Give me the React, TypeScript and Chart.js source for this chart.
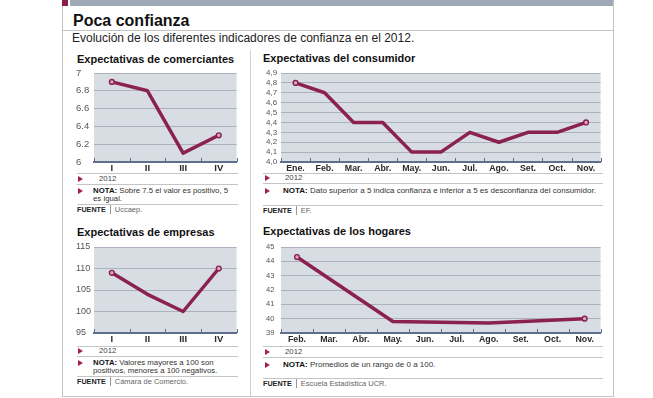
import React, { useEffect, useRef } from 'react';
import { Chart, registerables } from 'chart.js';

Chart.register(...registerables);

// ---------------- DATA ----------------
const quarterLabels = ['I', 'II', 'III', 'IV'];

const comerciantesValues = [6.9, 6.8, 6.1, 6.3];
const comerciantesTicks = [6, 6.2, 6.4, 6.6, 6.8, 7];
const comerciantesTickLabels = ['6', '6.2', '6.4', '6.6', '6.8', '7'];

const consumidorMonths = ['Ene.', 'Feb.', 'Mar.', 'Abr.', 'May.', 'Jun.', 'Jul.', 'Ago.', 'Set.', 'Oct.', 'Nov.'];
const consumidorValues = [4.8, 4.7, 4.4, 4.4, 4.1, 4.1, 4.3, 4.2, 4.3, 4.3, 4.4];
const consumidorTicks = [4.0, 4.1, 4.2, 4.3, 4.4, 4.5, 4.6, 4.7, 4.8, 4.9];
const consumidorTickLabels = ['4,0', '4,1', '4,2', '4,3', '4,4', '4,5', '4,6', '4,7', '4,8', '4,9'];

const empresasValues = [109, 104, 100, 110];
const empresasTicks = [95, 100, 105, 110, 115];
const empresasTickLabels = ['95', '100', '105', '110', '115'];

const hogaresMonths = ['Feb.', 'Mar.', 'Abr.', 'May.', 'Jun.', 'Jul.', 'Ago.', 'Set.', 'Oct.', 'Nov.'];
const hogaresValues: (number | null)[] = [44.3, null, null, 39.8, null, null, 39.7, null, null, 40.0];
const hogaresTicks = [39, 40, 41, 42, 43, 44, 45];
const hogaresTickLabels = ['39', '40', '41', '42', '43', '44', '45'];

// ---------------- STYLE ----------------
const FONT = '"Liberation Sans", Arial, sans-serif';
const MAROON = '#8a2150';
const PLOT_BG = '#d8dce3';
const GRID = '#abb2be';
const AXIS = '#5d6f8c';
const RULE = '#c4c4c4';

const bgPlugin = {
  id: 'plotBg',
  beforeDraw(chart: any) {
    const { ctx, chartArea: a } = chart;
    ctx.save();
    ctx.fillStyle = PLOT_BG;
    ctx.fillRect(a.left, a.top, a.right - a.left, a.bottom - a.top);
    ctx.restore();
  },
};

const boundaryTicks = {
  id: 'boundaryTicks',
  afterDraw(chart: any) {
    const xs = chart.scales.x;
    const n = chart.data.labels.length;
    const p0 = xs.getPixelForValue(0);
    const step = xs.getPixelForValue(1) - p0;
    const { ctx, chartArea: a } = chart;
    ctx.save();
    ctx.strokeStyle = AXIS;
    ctx.lineWidth = 1;
    for (let i = 0; i <= n; i++) {
      const x = Math.round(p0 + (i - 0.5) * step) + 0.5;
      ctx.beginPath();
      ctx.moveTo(x, a.bottom);
      ctx.lineTo(x, a.bottom - 4);
      ctx.stroke();
    }
    ctx.restore();
  },
};

type BoxProps = {
  left: number; top: number; width: number; height: number;
  yWidth: number; padTop: number; padRight: number; xHeight: number;
  labels: string[]; values: (number | null)[];
  tickValues: number[]; tickLabels: string[];
  yFont: number; xFont: number;
};

function LineBox(p: BoxProps) {
  const ref = useRef<HTMLCanvasElement>(null);
  useEffect(() => {
    const last = p.values.length - 1;
    const chart = new Chart(ref.current as HTMLCanvasElement, {
      type: 'line',
      data: {
        labels: p.labels,
        datasets: [
          {
            data: p.values as any,
            borderColor: MAROON,
            borderWidth: 3.5,
            tension: 0,
            spanGaps: true,
            borderJoinStyle: 'round',
            borderCapStyle: 'round',
            pointRadius: p.values.map((_, i) => (i === 0 || i === last ? 2.4 : 0)),
            pointBackgroundColor: '#d9a8bc',
            pointBorderColor: MAROON,
            pointBorderWidth: 1.4,
          } as any,
        ],
      },
      options: {
        animation: false,
        responsive: false,
        maintainAspectRatio: false,
        devicePixelRatio: 1,
        layout: { padding: { top: p.padTop, right: p.padRight, left: 0, bottom: 0 } },
        plugins: { legend: { display: false }, tooltip: { enabled: false } },
        scales: {
          x: {
            offset: true,
            grid: { display: false, drawTicks: false },
            border: { display: true, color: AXIS, width: 2 },
            ticks: {
              font: { family: FONT, size: p.xFont, weight: 'bold' },
              color: '#2a2a2a',
              padding: 1,
              maxRotation: 0,
              autoSkip: false,
            },
            afterFit: (s: any) => { s.height = p.xHeight; },
          },
          y: {
            min: p.tickValues[0],
            max: p.tickValues[p.tickValues.length - 1],
            afterBuildTicks: (s: any) => { s.ticks = p.tickValues.map((v) => ({ value: v })); },
            ticks: {
              callback: (_v: any, i: number) => p.tickLabels[i],
              crossAlign: 'far',
              autoSkip: false,
              font: { family: FONT, size: p.yFont },
              color: '#555',
              padding: 0,
            },
            grid: { color: GRID, drawTicks: false, lineWidth: 1 },
            border: { display: false },
            afterFit: (s: any) => { s.width = p.yWidth; },
          },
        },
      } as any,
      plugins: [bgPlugin, boundaryTicks],
    });
    return () => chart.destroy();
  }, []);
  return (
    <canvas
      ref={ref}
      width={p.width}
      height={p.height}
      style={{ position: 'absolute', left: p.left, top: p.top, width: p.width, height: p.height }}
    />
  );
}

function Txt(props: { x: number; cy: number; size: number; bold?: boolean; color?: string; lh?: number; children: any }) {
  const lh = props.lh ?? props.size * 1.2;
  return (
    <div
      style={{
        position: 'absolute', left: props.x, top: props.cy - lh / 2, fontSize: props.size,
        lineHeight: lh + 'px', fontWeight: props.bold ? 'bold' : 'normal', color: props.color ?? '#222',
        whiteSpace: 'nowrap', fontFamily: FONT,
      }}
    >
      {props.children}
    </div>
  );
}

function HLine(props: { x1: number; x2: number; y: number; color?: string }) {
  return <div style={{ position: 'absolute', left: props.x1, top: props.y, width: props.x2 - props.x1, height: 1, background: props.color ?? RULE }} />;
}
function VLine(props: { x: number; y1: number; y2: number; color?: string }) {
  return <div style={{ position: 'absolute', left: props.x, top: props.y1, width: 1, height: props.y2 - props.y1, background: props.color ?? RULE }} />;
}
function Tri(props: { x: number; cy: number }) {
  return (
    <div style={{ position: 'absolute', left: props.x, top: props.cy - 3, width: 0, height: 0, borderTop: '3px solid transparent', borderBottom: '3px solid transparent', borderLeft: '5px solid #a3204f' }} />
  );
}
function Fuente(props: { x: number; cy: number; text: string }) {
  return (
    <div style={{ position: 'absolute', left: props.x, top: props.cy - 5, height: 10, display: 'flex', alignItems: 'center', fontFamily: FONT, whiteSpace: 'nowrap' }}>
      <span style={{ fontSize: 7.2, fontWeight: 'bold', color: '#222' }}>FUENTE</span>
      <span style={{ display: 'inline-block', width: 1, height: 9, background: '#999', margin: '0 4px 0 4px' }} />
      <span style={{ fontSize: 7.5, color: '#666' }}>{props.text}</span>
    </div>
  );
}

export default function App() {
  return (
    <div style={{ position: 'absolute', left: 0, top: 0, width: 653, height: 398, background: '#fff', overflow: 'hidden', fontFamily: FONT }}>
      {/* header */}
      <div style={{ position: 'absolute', left: 62, top: 0, width: 6, height: 6, background: '#8b1d4b' }} />
      <div style={{ position: 'absolute', left: 70, top: 0, width: 543, height: 6, background: '#9ea8b6' }} />
      <Txt x={73} cy={21} size={16} bold color="#111">Poca confianza</Txt>
      <HLine x1={62} x2={614} y={30} />
      <Txt x={72} cy={38} size={12} color="#222">Evolución de los diferentes indicadores de confianza en el 2012.</Txt>
      {/* frame */}
      <VLine x={62} y1={6} y2={397} />
      <VLine x={613} y1={0} y2={397} />
      <HLine x1={62} x2={614} y={396} />
      <VLine x={250} y1={50} y2={396} color="#d0d0d0" />

      {/* ---- comerciantes ---- */}
      <Txt x={77} cy={59.5} size={11} bold color="#111">Expectativas de comerciantes</Txt>
      <LineBox left={76} top={64} width={166} height={109} yWidth={18} padTop={9} padRight={4} xHeight={11}
        labels={quarterLabels} values={comerciantesValues} tickValues={comerciantesTicks} tickLabels={comerciantesTickLabels}
        yFont={9.5} xFont={9.5} />
      <HLine x1={77} x2={238} y={173} />
      <Tri x={78} cy={179} />
      <Txt x={99} cy={179} size={7.8} color="#444">2012</Txt>
      <HLine x1={77} x2={238} y={184} />
      <Tri x={78} cy={191} />
      <div style={{ position: 'absolute', left: 93, top: 187, fontSize: 7.8, lineHeight: '8.3px', color: '#333', fontFamily: FONT, whiteSpace: 'nowrap' }}>
        <b style={{ color: '#111' }}>NOTA:</b> Sobre 7.5 el valor es positivo, 5<br />es igual.
      </div>
      <HLine x1={77} x2={238} y={204} />
      <Fuente x={77} cy={209.5} text="Uccaep." />

      {/* ---- consumidor ---- */}
      <Txt x={263} cy={59} size={11} bold color="#111">Expectativas del consumidor</Txt>
      <LineBox left={266} top={64} width={340} height={109} yWidth={15} padTop={9} padRight={4} xHeight={11}
        labels={consumidorMonths} values={consumidorValues} tickValues={consumidorTicks} tickLabels={consumidorTickLabels}
        yFont={8} xFont={8.8} />
      <HLine x1={263} x2={603} y={173} />
      <Tri x={265} cy={178} />
      <Txt x={285} cy={178} size={7.8} color="#444">2012</Txt>
      <HLine x1={263} x2={603} y={183} />
      <Tri x={265} cy={191} />
      <Txt x={283} cy={191} size={8} color="#333"><b style={{ color: '#111' }}>NOTA:</b> Dato superior a 5 indica confianza e inferior a 5 es desconfianza del consumidor.</Txt>
      <HLine x1={263} x2={603} y={205} />
      <Fuente x={263} cy={210} text="EF." />

      {/* ---- empresas ---- */}
      <Txt x={77} cy={232.5} size={11} bold color="#111">Expectativas de empresas</Txt>
      <LineBox left={76} top={238} width={166} height={106} yWidth={18} padTop={9} padRight={4} xHeight={11}
        labels={quarterLabels} values={empresasValues} tickValues={empresasTicks} tickLabels={empresasTickLabels}
        yFont={9} xFont={9.5} />
      <HLine x1={77} x2={238} y={346} />
      <Tri x={78} cy={351} />
      <Txt x={99} cy={351} size={7.8} color="#444">2012</Txt>
      <HLine x1={77} x2={238} y={356} />
      <Tri x={78} cy={363} />
      <div style={{ position: 'absolute', left: 93, top: 359, fontSize: 7.8, lineHeight: '8.3px', color: '#333', fontFamily: FONT, whiteSpace: 'nowrap' }}>
        <b style={{ color: '#111' }}>NOTA:</b> Valores mayores a 100 son<br />positivos, menores a 100 negativos.
      </div>
      <HLine x1={77} x2={238} y={376} />
      <Fuente x={77} cy={381} text="Cámara de Comercio." />

      {/* ---- hogares ---- */}
      <Txt x={263} cy={232} size={11} bold color="#111">Expectativas de los hogares</Txt>
      <LineBox left={266} top={238} width={340} height={106} yWidth={15} padTop={9} padRight={4} xHeight={11}
        labels={hogaresMonths} values={hogaresValues} tickValues={hogaresTicks} tickLabels={hogaresTickLabels}
        yFont={7.5} xFont={8.8} />
      <HLine x1={263} x2={603} y={346} />
      <Tri x={265} cy={351.5} />
      <Txt x={285} cy={351.5} size={7.8} color="#444">2012</Txt>
      <HLine x1={263} x2={603} y={357} />
      <Tri x={265} cy={365} />
      <Txt x={283} cy={365} size={8} color="#333"><b style={{ color: '#111' }}>NOTA:</b> Promedios de un rango de 0 a 100.</Txt>
      <HLine x1={263} x2={603} y={378} />
      <Fuente x={263} cy={383} text="Escuela Estadística UCR." />
    </div>
  );
}
